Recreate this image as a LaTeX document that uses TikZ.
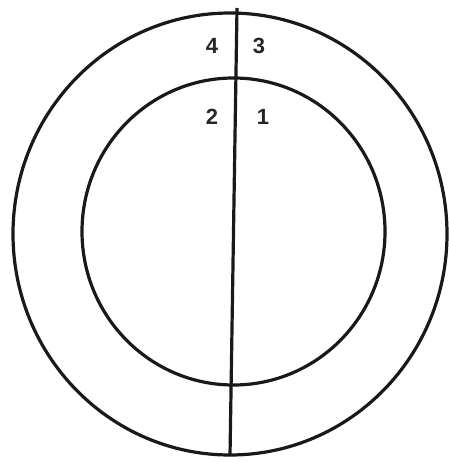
\documentclass[tikz,border=0pt]{standalone}
\usepackage{fontspec}
\setmainfont{Liberation Sans}
\begin{document}
\begin{tikzpicture}[x=1pt,y=-1pt,
  ring/.style={draw=black!90,line width=3.2pt},
  lbl/.style={font=\fontsize{22}{22}\selectfont\bfseries,text=black!85,inner sep=0pt}]
\useasboundingbox (0,0) rectangle (448,462);
\node[coordinate] (oc) at (230,234) {};
\node[coordinate] (ic) at (233.5,231.5) {};
\draw[ring] (oc) ellipse [x radius=217, y radius=221];
\draw[ring] (ic) ellipse [x radius=151.5, y radius=153.5];
\coordinate (top) at (237,8);
\coordinate (bot) at (230,456);
\draw[ring] (top) -- (bot);
\node[lbl] (n4) at (212,46) {4};
\node[lbl] (n3) at (259,46) {3};
\node[lbl] (n2) at (212,117) {2};
\node[lbl] (n1) at (263,117) {1};
\end{tikzpicture}
\end{document}
